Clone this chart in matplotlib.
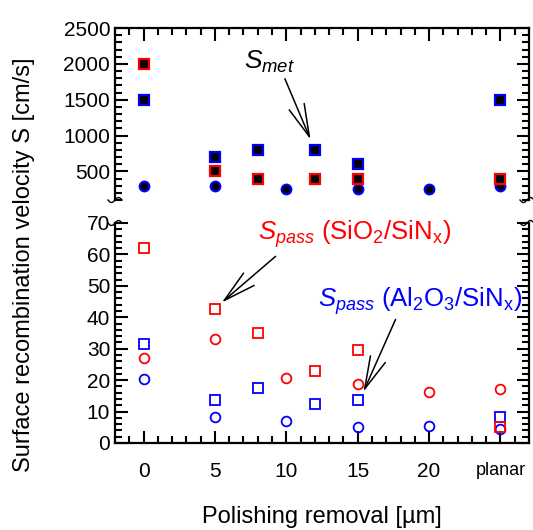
import matplotlib
matplotlib.use("Agg")
import matplotlib.pyplot as plt
import numpy as np
from matplotlib.ticker import MultipleLocator, FixedLocator

plt.rcParams['font.family'] = ['Liberation Sans', 'DejaVu Sans']
plt.rcParams['mathtext.fontset'] = 'custom'
plt.rcParams['mathtext.rm'] = 'Liberation Sans'
plt.rcParams['mathtext.it'] = 'Liberation Sans:italic'

RED = '#ff0000'
BLUE = '#0000ff'

# x positions (planar placed at 25)
x_tick_pos = [0, 5, 10, 15, 20, 25]
x_tick_lbl = ['0', '5', '10', '15', '20', 'planar']

# S_met (top panel)
met_sio2_x = [0, 5, 8, 12, 15, 25]
met_sio2_y = [2000, 500, 400, 400, 400, 400]
met_al2o3_x = [0, 5, 8, 12, 15, 25]
met_al2o3_y = [1500, 700, 800, 800, 600, 1500]
met_circ_x = [0, 5, 10, 15, 20, 25]
met_circ_y = [300, 300, 260, 260, 260, 300]

# S_pass (bottom panel)
pass_sio2_sq_x = [0, 5, 8, 12, 15, 25]
pass_sio2_sq_y = [62, 42.7, 35, 23, 29.5, 5.2]
pass_sio2_ci_x = [0, 5, 10, 15, 20, 25]
pass_sio2_ci_y = [27, 33, 20.7, 18.8, 16.2, 17.2]
pass_al2o3_sq_x = [0, 5, 8, 12, 15, 25]
pass_al2o3_sq_y = [31.6, 13.7, 17.5, 12.5, 13.7, 8.4]
pass_al2o3_ci_x = [0, 5, 10, 15, 20, 25]
pass_al2o3_ci_y = [20.5, 8.4, 7, 5.2, 5.4, 4.5]

W, H = 533, 530
fig = plt.figure(figsize=(W / 100, H / 100), dpi=100)
L, R = 115 / W, 529 / W
ax_top = fig.add_axes([L, 1 - 200 / H, R - L, (200 - 28) / H])
ax_bot = fig.add_axes([L, 1 - 443 / H, R - L, (443 - 223) / H])

ms = 6.5
ax_top.plot(met_circ_x, met_circ_y, 'o', ms=ms + 0.5, mfc='k', mec=BLUE, mew=1.5, ls='none')
ax_top.plot(met_al2o3_x, met_al2o3_y, 's', ms=ms, mfc='k', mec=BLUE, mew=1.6, ls='none')
ax_top.plot(met_sio2_x, met_sio2_y, 's', ms=ms, mfc='k', mec=RED, mew=1.6, ls='none')

ax_bot.plot(pass_al2o3_ci_x, pass_al2o3_ci_y, 'o', ms=ms + 0.5, mfc='none', mec=BLUE, mew=1.3, ls='none')
ax_bot.plot(pass_sio2_ci_x, pass_sio2_ci_y, 'o', ms=ms + 0.5, mfc='none', mec=RED, mew=1.3, ls='none')
ax_bot.plot(pass_al2o3_sq_x, pass_al2o3_sq_y, 's', ms=ms, mfc='none', mec=BLUE, mew=1.3, ls='none')
ax_bot.plot(pass_sio2_sq_x, pass_sio2_sq_y, 's', ms=ms, mfc='none', mec=RED, mew=1.3, ls='none')

for ax in (ax_top, ax_bot):
    ax.set_xlim(-2, 27)
    ax.xaxis.set_major_locator(FixedLocator(x_tick_pos))
    ax.xaxis.set_minor_locator(MultipleLocator(1))
    for s in ax.spines.values():
        s.set_linewidth(1.6)
    ax.tick_params(which='both', direction='in', width=1.5, labelsize=15,
                   color='k', labelcolor='k')
    ax.tick_params(which='major', length=9)
    ax.tick_params(which='minor', length=5)

ax_top.set_ylim(100, 2500)
ax_top.yaxis.set_major_locator(FixedLocator([500, 1000, 1500, 2000, 2500]))
ax_top.yaxis.set_minor_locator(MultipleLocator(100))
ax_top.spines['bottom'].set_visible(False)
ax_top.tick_params(which='both', top=True, bottom=False, right=True,
                   labelbottom=False, labeltop=False)

ax_bot.set_ylim(0, 70)
ax_bot.yaxis.set_major_locator(MultipleLocator(10))
ax_bot.yaxis.set_minor_locator(MultipleLocator(2))
ax_bot.spines['top'].set_visible(False)
ax_bot.tick_params(which='both', top=False, right=True)
ax_bot.set_xticklabels(x_tick_lbl)
ax_bot.get_xticklabels()[-1].set_fontsize(13)
ax_bot.tick_params(axis='x', pad=14)

ax_bot.set_xlabel('Polishing removal [µm]', fontsize=17, labelpad=18)
fig.text(0.045, 0.5, 'Surface recombination velocity S [cm/s]', rotation=90,
         fontsize=17, ha='center', va='center')

# annotations
arr = dict(arrowstyle='->,head_length=1.8,head_width=0.45', lw=1.1, color='k',
           shrinkA=0, shrinkB=0, mutation_scale=13)
ax_top.text(8.8, 2030, r'$S_{met}$', fontsize=19, ha='center', va='center')
ax_top.annotate('', xy=(11.7, 944), xytext=(9.9, 1792), arrowprops=arr)

ax_bot.text(14.8, 66.5, r'$S_{pass}$ (SiO$_2$/SiN$_\mathrm{x}$)', fontsize=18.5,
            color=RED, ha='center', va='center')
ax_bot.annotate('', xy=(5.48, 44.7), xytext=(9.25, 59.4), arrowprops=arr)

ax_bot.text(19.4, 45, r'$S_{pass}$ (Al$_2$O$_3$/SiN$_\mathrm{x}$)', fontsize=18.5,
            color=BLUE, ha='center', va='center')
ax_bot.annotate('', xy=(15.4, 16.3), xytext=(17.65, 39.3), arrowprops=arr)

# break marks
t = np.linspace(0, 1, 30)
for xc in (115, 527):
    for yc in (200, 223):
        xs = xc - 7 + 14 * t
        ys = yc + 2.5 * np.sin(2 * np.pi * t)
        fig.add_artist(plt.Line2D(xs / W, 1 - ys / H, color='k', lw=1.0))

fig.savefig('out.png', dpi=100)
